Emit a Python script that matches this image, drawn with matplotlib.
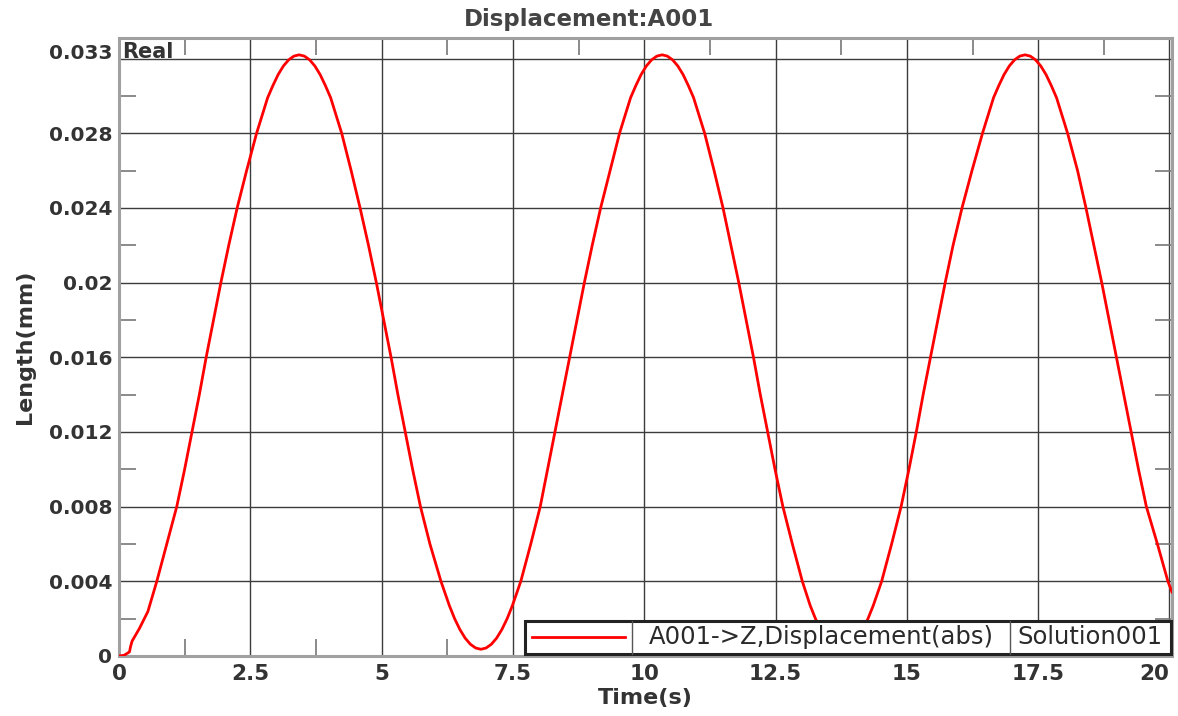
import matplotlib
matplotlib.use("Agg")
import matplotlib.pyplot as plt
from matplotlib.patches import Rectangle
from matplotlib.ticker import MultipleLocator, FixedLocator
from matplotlib.transforms import ScaledTranslation

# values
time_s = [0.00, 0.10, 0.20, 0.22, 0.25, 0.39, 0.55, 0.72, 0.90, 1.10,
          1.25, 1.39, 1.53, 1.66, 1.80, 1.94, 2.09, 2.25, 2.43, 2.62,
          2.73, 2.83, 2.93, 3.03, 3.13, 3.23, 3.33, 3.43,
          3.53, 3.63, 3.73, 3.83, 3.93, 4.03, 4.13, 4.24, 4.42, 4.59,
          4.75, 4.90, 5.04, 5.18, 5.31, 5.45, 5.59, 5.74, 5.92, 6.13,
          6.29, 6.39, 6.49, 6.59, 6.69, 6.79, 6.89,
          6.99, 7.09, 7.19, 7.29, 7.39, 7.49, 7.65, 7.84, 8.02, 8.16,
          8.30, 8.44, 8.58, 8.72, 8.86, 9.01, 9.17, 9.35, 9.53, 9.64,
          9.74, 9.84, 9.94, 10.04, 10.14, 10.24, 10.34,
          10.44, 10.54, 10.64, 10.74, 10.84, 10.94, 11.04, 11.15, 11.33, 11.50,
          11.65, 11.80, 11.94, 12.08, 12.21, 12.35, 12.49, 12.64, 12.82, 13.01,
          13.16, 13.26, 13.36, 13.46, 13.56, 13.66, 13.76,
          13.86, 13.96, 14.06, 14.16, 14.26, 14.36, 14.52, 14.71, 14.89, 15.04,
          15.18, 15.31, 15.45, 15.59, 15.73, 15.88, 16.05, 16.24, 16.44, 16.55,
          16.65, 16.75, 16.85, 16.95, 17.05, 17.15, 17.25,
          17.35, 17.45, 17.55, 17.65, 17.75, 17.85, 17.95, 18.06, 18.25, 18.41,
          18.56, 18.71, 18.85, 18.99, 19.13, 19.27, 19.41, 19.56, 19.77, 19.97,
          20.05]
length_mm = [0.00000, 0.00004, 0.00022, 0.00050, 0.00080, 0.00148, 0.00238, 0.00400, 0.00590, 0.00800,
             0.01000, 0.01200, 0.01400, 0.01600, 0.01800, 0.02000, 0.02200, 0.02400, 0.02600, 0.02800,
             0.02900, 0.02990, 0.03055, 0.03114, 0.03160, 0.03193, 0.03213, 0.03220,
             0.03213, 0.03193, 0.03160, 0.03114, 0.03055, 0.02990, 0.02900, 0.02800, 0.02600, 0.02400,
             0.02200, 0.02000, 0.01800, 0.01600, 0.01400, 0.01200, 0.01000, 0.00800, 0.00600, 0.00400,
             0.00270, 0.00200, 0.00142, 0.00096, 0.00063, 0.00043, 0.00036,
             0.00043, 0.00063, 0.00096, 0.00142, 0.00200, 0.00270, 0.00400, 0.00600, 0.00800, 0.01000,
             0.01200, 0.01400, 0.01600, 0.01800, 0.02000, 0.02200, 0.02400, 0.02600, 0.02800, 0.02900,
             0.02990, 0.03055, 0.03114, 0.03160, 0.03193, 0.03213, 0.03220,
             0.03213, 0.03193, 0.03160, 0.03114, 0.03055, 0.02990, 0.02900, 0.02800, 0.02600, 0.02400,
             0.02200, 0.02000, 0.01800, 0.01600, 0.01400, 0.01200, 0.01000, 0.00800, 0.00600, 0.00400,
             0.00270, 0.00200, 0.00142, 0.00096, 0.00063, 0.00043, 0.00036,
             0.00043, 0.00063, 0.00096, 0.00142, 0.00200, 0.00270, 0.00400, 0.00600, 0.00800, 0.01000,
             0.01200, 0.01400, 0.01600, 0.01800, 0.02000, 0.02200, 0.02400, 0.02600, 0.02800, 0.02900,
             0.02990, 0.03055, 0.03114, 0.03160, 0.03193, 0.03213, 0.03220,
             0.03213, 0.03193, 0.03160, 0.03114, 0.03055, 0.02990, 0.02900, 0.02800, 0.02600, 0.02400,
             0.02200, 0.02000, 0.01800, 0.01600, 0.01400, 0.01200, 0.01000, 0.00800, 0.00600, 0.00400,
             0.00340]

x_ticks = [0, 2.5, 5, 7.5, 10, 12.5, 15, 17.5, 20]
x_labels = ["0", "2.5", "5", "7.5", "10", "12.5", "15", "17.5", "20"]
y_ticks = [0, 0.004, 0.008, 0.012, 0.016, 0.02, 0.024, 0.028, 0.032]
y_labels = ["0", "0.004", "0.008", "0.012", "0.016", "0.02", "0.024", "0.028", "0.033"]

series_name = "A001->Z,Displacement(abs)"
solution_name = "Solution001"

txt = "#333333"
plt.rcParams['font.family'] = ['DejaVu Sans']

fig = plt.figure(figsize=(11.78, 7.16), dpi=100)
ax = fig.add_axes([0.101, 0.0838, 0.894, 0.8631])

ax.plot(time_s, length_mm, color="#ff0000", lw=2, zorder=3,
        solid_joinstyle="round", solid_capstyle="round")

ax.set_xlim(0, 20.05)
ax.set_ylim(0, 0.0331)
ax.xaxis.set_major_locator(FixedLocator(x_ticks))
ax.set_xticklabels(x_labels)
ax.yaxis.set_major_locator(FixedLocator(y_ticks))
ax.set_yticklabels(y_labels)
ax.xaxis.set_minor_locator(MultipleLocator(1.25))
ax.yaxis.set_minor_locator(MultipleLocator(0.002))

ax.grid(True, which="major", color="#3c3c3c", lw=1.0)
ax.tick_params(which="major", length=0, pad=5, colors=txt, labelsize=14.5)
ax.tick_params(axis="x", which="major", labelsize=15.5, pad=6)
ax.tick_params(which="minor", direction="in", length=12, width=1.2, color="#777777",
               top=True, right=True)
for lab in ax.get_xticklabels() + ax.get_yticklabels():
    lab.set_fontweight("bold")
ax.get_xticklabels()[-1].set_ha("right")
# top label sits a little above its grid line in the original
top_lab = ax.get_yticklabels()[-1]
top_lab.set_transform(top_lab.get_transform() + ScaledTranslation(0, 0.07, fig.dpi_scale_trans))

for sp in ax.spines.values():
    sp.set_color("#a0a0a0")
    sp.set_linewidth(2.2)

fig.text(0.5, 0.973, "Displacement:A001", ha="center", va="center", fontsize=16.5,
         fontweight="bold", color="#444444")
ax.set_xlabel("Time(s)", fontsize=16, fontweight="bold", color=txt, labelpad=3)
ax.set_ylabel("Length(mm)", fontsize=16, fontweight="bold", color=txt, labelpad=10)

ax.text(0.003, 0.993, "Real", transform=ax.transAxes, ha="left", va="top",
        fontsize=15, fontweight="bold", color=txt, zorder=5)

# legend drawn as a little table, like the original tool does
lx0, lx1, lx2, lx3 = 0.3856, 0.4876, 0.8458, 0.9985
ly0, ly1 = 0.004, 0.0566
ax.add_patch(Rectangle((lx0, ly0), lx3 - lx0, ly1 - ly0, transform=ax.transAxes,
                       facecolor="white", edgecolor="#222222", lw=2.2, zorder=6, clip_on=False))
for xd in (lx1, lx2):
    ax.plot([xd, xd], [ly0, ly1], transform=ax.transAxes, color="#555555", lw=1, zorder=7)
ax.plot([lx0 + 0.007, lx1 - 0.007], [0.031, 0.031], transform=ax.transAxes,
        color="#ff0000", lw=2, zorder=7)
ax.text((lx1 + lx2) / 2, 0.031, series_name, transform=ax.transAxes, ha="center",
        va="center", fontsize=17.5, color="#2a2a2a", zorder=8)
ax.text((lx2 + lx3) / 2, 0.031, solution_name, transform=ax.transAxes, ha="center",
        va="center", fontsize=17.5, color="#2a2a2a", zorder=8)

fig.savefig("out.png", dpi=100)
